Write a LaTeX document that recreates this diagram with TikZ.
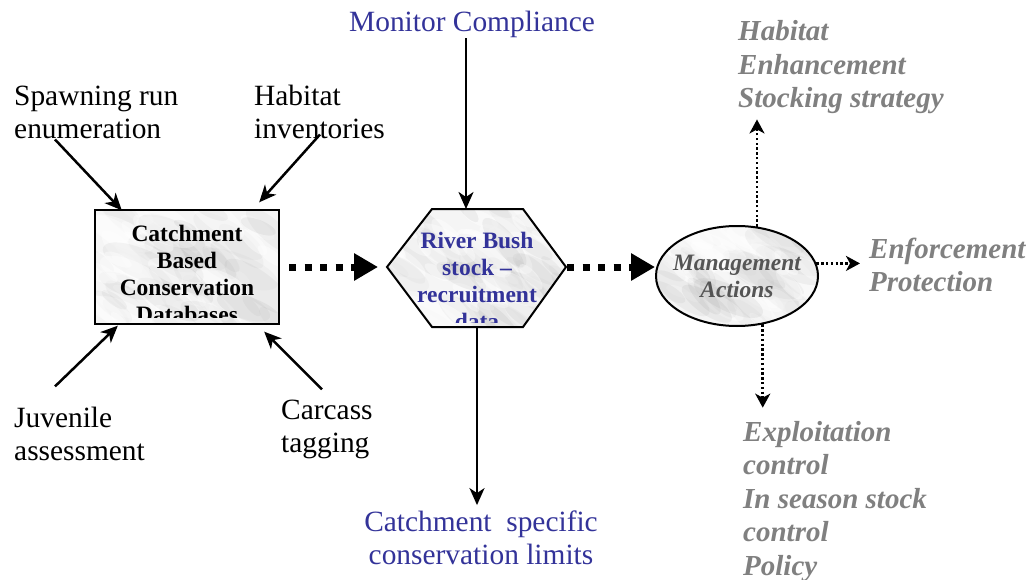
\documentclass[tikz,border=0pt]{standalone}
\usepackage{fontspec}
\setmainfont{Liberation Serif}
\usetikzlibrary{arrows.meta,shapes.geometric}
\definecolor{cblue}{RGB}{51,51,153}
\definecolor{cgray}{RGB}{128,128,128}
\definecolor{cdark}{RGB}{85,85,85}
\newcommand\marblepat[4]{%
  \fill[gray!8] (#1,#2) rectangle ++(#3,#4);
  \foreach \k in {1,...,40}{%
    \pgfmathsetmacro\mx{#1+rnd*#3}%
    \pgfmathsetmacro\my{#2+rnd*#4}%
    \pgfmathsetmacro\mr{6+rnd*16}%
    \pgfmathsetmacro\ma{-50+rnd*30}%
    \pgfmathsetmacro\mo{0.03+rnd*0.07}%
    \fill[gray, opacity=\mo, rotate around={\ma:(\mx,\my)}] (\mx,\my) ellipse [x radius=2*\mr, y radius=0.7*\mr];
    \pgfmathsetmacro\nx{#1+rnd*#3}%
    \pgfmathsetmacro\ny{#2+rnd*#4}%
    \fill[white, opacity=0.4, rotate around={\ma:(\nx,\ny)}] (\nx,\ny) ellipse [x radius=1.6*\mr, y radius=0.6*\mr];
  }%
}
\begin{document}
\begin{tikzpicture}[x=1pt,y=-1pt,
  lbl/.style={inner sep=0, align=left, anchor=base west, font=\fontsize{29.4}{33}\selectfont},
  act/.style={inner sep=0, align=left, anchor=base west, text=cgray, font=\fontsize{29}{33.5}\selectfont\bfseries\itshape},
  intxt/.style={inner sep=0, align=center, anchor=base, font=\fontsize{23.5}{27}\selectfont\bfseries},
  thinarr/.style={line width=2.5pt, -{Stealth[length=17pt,width=15pt,inset=5pt]}},
  fatarr/.style={line width=7pt, dash pattern=on 7pt off 8.5pt, -{Triangle[length=24pt,width=26pt]}},
  dotarr/.style={line width=2.6pt, dash pattern=on 2.4pt off 2.4pt, -{Stealth[length=14pt,width=15pt,inset=4pt]}},
  shapeline/.style={line width=2pt, draw=black}
]
\pgfmathsetseed{42}
\useasboundingbox (0,0) rectangle (1032,580);

% --- rectangle: catchment databases
\node[minimum width=184pt, minimum height=113pt, inner sep=0] (box) at (187,267) {};
\begin{scope}
  \clip (box.south west) rectangle (box.north east);
  \marblepat{95}{210}{184}{114}
  \clip (90,205) rectangle (285,317);
  \node[intxt] (boxtext) at (187,322) {Catchment\\Based\\Conservation\\Databases};
\end{scope}
\draw[shapeline] (box.south west) rectangle (box.north east);

% --- hexagon: river bush
\coordinate (hexL) at (387,267);
\coordinate (hexR) at (566,267);
\coordinate (hexTL) at (432,209);
\coordinate (hexTR) at (523,209);
\coordinate (hexBL) at (432,327);
\coordinate (hexBR) at (523,327);
\coordinate (hexTop) at (466,209);
\coordinate (hexBot) at (477,327);
\begin{scope}
  \clip (hexL) -- (hexTL) -- (hexTR) -- (hexR) -- (hexBR) -- (hexBL) -- cycle;
  \marblepat{387}{209}{179}{118}
  \clip (380,200) rectangle (580,322);
  \node[intxt, text=cblue] (hextext) at (477,329) {River Bush\\stock --\\recruitment\\data};
\end{scope}
\draw[shapeline, line join=miter] (hexL) -- (hexTL) -- (hexTR) -- (hexR) -- (hexBR) -- (hexBL) -- cycle;

% --- ellipse: management actions
\begin{scope}
  \clip (737,276) ellipse [x radius=81, y radius=50];
  \marblepat{656}{226}{162}{100}
\end{scope}
\node[ellipse, shapeline, minimum width=162pt, minimum height=100pt, inner sep=0] (ell) at (737,276) {};
\node[inner sep=0, align=center, text=cdark, font=\fontsize{23.5}{27}\selectfont\bfseries\itshape] (elltext) at (ell.center) {Management\\Actions};

% --- labels (base anchor = last line)
\node[lbl] (spawn) at (14,139) {Spawning run\\enumeration};
\node[lbl] (habinv) at (254,139) {Habitat\\inventories};
\node[lbl] (juv) at (14,460) {Juvenile\\assessment};
\node[lbl] (carc) at (281,452) {Carcass\\tagging};
\node[lbl, text=cblue] (mon) at (349,32) {Monitor Compliance};
\node[lbl, text=cblue, align=center, anchor=base] (cs) at (481,564) {Catchment\ \ specific\\conservation limits};

\node[act] (hab) at (738,108) {Habitat\\Enhancement\\Stocking strategy};
\node[act] (enf) at (869,291.5) {Enforcement\\Protection};
\node[act] (expl) at (743,575) {Exploitation\\control\\In season stock\\control\\Policy};

% --- connectors
\draw[thinarr] ([xshift=41pt]spawn.south west) -- ([xshift=27pt]box.north west);
\draw[thinarr] ([xshift=66pt,yshift=5pt]habinv.south west) -- ([xshift=-20pt,yshift=8pt]box.north east);
\draw[thinarr] ([xshift=41pt,yshift=20pt]juv.north west) -- ([xshift=23pt,yshift=-2pt]box.south west);
\draw[thinarr] ([xshift=41pt,yshift=10pt]carc.north west) -- ([xshift=-15pt,yshift=-8pt]box.south east);
\draw[thinarr] (mon.south -| hexTop) -- (hexTop);
\draw[thinarr, shorten >=5pt] (hexBot) -- (hexBot |- cs.north);

\draw[fatarr] ([xshift=10pt]box.east) -- ([xshift=-9pt]hexL);
\draw[fatarr] ([xshift=1pt]hexR) -- (hexR -| ell.west);

\draw[dotarr, shorten >=5pt] (ell.68) -- (ell.68 |- hab.south);
\draw[dotarr, shorten >=9pt] (ell.9) -- (ell.9 -| enf.west);
\draw[dotarr, shorten >=13pt] (ell.-62) -- (ell.-62 |- expl.north);
\end{tikzpicture}
\end{document}
